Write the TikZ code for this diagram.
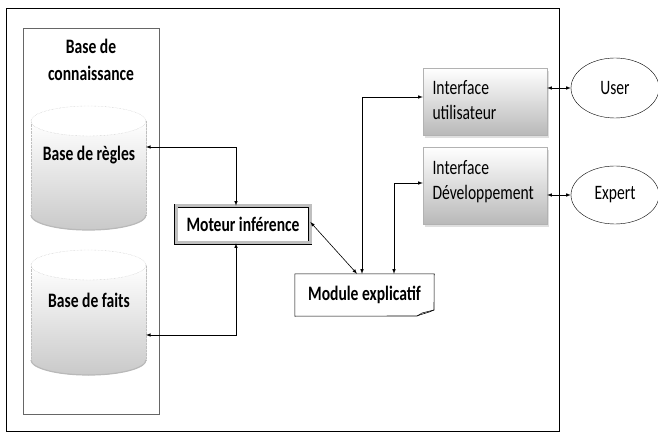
\documentclass[tikz,border=0pt]{standalone}
\usepackage{fontspec}
\setmainfont[FakeStretch=0.76]{Carlito}
\usetikzlibrary{positioning,arrows,shadows,shapes.geometric}

\begin{document}
\begin{tikzpicture}[x=1pt,y=1pt,
  txt/.style={font=\fontsize{20.5}{25}\selectfont},
  gras/.style={txt,font=\fontsize{20.5}{27}\selectfont\bfseries,align=center},
  iface/.style={draw=gray!60,top color=white,bottom color=gray!55,minimum width=124pt,
    drop shadow={shadow xshift=2pt,shadow yshift=-3pt,fill=gray!50}},
  acteur/.style={draw,ellipse,minimum width=88pt,minimum height=60pt,txt},
  con/.style={latex-latex,line width=0.6pt}]
\useasboundingbox (0,0) rectangle (658,434);

% cadres
\draw[line width=0.7pt] (6,3) rectangle (559,426);
\draw[gray!80!black,line width=0.7pt] (23,20) rectangle (159,406);
\node[gras] (kb) at (91,374) {Base de\\connaissance};

% les deux bases
\foreach \yt/\yb in {313/219,169/74}{
	\fill[top color=white,bottom color=gray!42] (31,\yt) -- (31,\yb) arc[start angle=180,end angle=360,x radius=57.5,y radius=15] -- (146,\yt) -- cycle;
	\draw[gray!55,line width=1.2pt] (31,\yb) arc[start angle=180,end angle=360,x radius=57.5,y radius=15];
	\draw[gray!50,densely dotted] (31,\yb) -- (31,\yt) (146,\yb) -- (146,\yt);
	\draw[gray!50,densely dotted,fill=white] (88.5,\yt) ellipse (57.5 and 15);
}
\node[gras] (br) at (89,279) {Base de règles};
\node[gras] (bf) at (89,134) {Base de faits};
\coordinate (brE) at (146,287);
\coordinate (bfE) at (146,99);

\node[gras,draw,fill=white,double=gray!50,double distance=3pt,line width=0.6pt,
  minimum width=134pt,minimum height=37pt] (mi) at (243,209.5) {Moteur inférence};

\node[gras,minimum width=139pt,minimum height=42pt] (me) at (364.5,139) {Module explicatif};
\draw[line width=0.6pt] (me.south west) -- (me.north west) -- (me.north east) -- (434,124)
	.. controls (428,121) and (421,120) .. (417,118) -- cycle;
\draw[line width=0.5pt] (434,124) -- (422,121) -- (417,118);

\node[iface,minimum height=67pt] (iu) at (485,332.5) {};
\node[iface,minimum height=77pt] (id) at (485,248.5) {};
\node[txt,align=left,anchor=west] (iuT) at (429,334) {Interface\\utilisateur};
\node[txt,align=left,anchor=west] (idT) at (429,252) {Interface\\Développement};

\node[acteur] (user) at (615,346) {User};
\node[acteur,minimum height=58pt] (expert) at (615,239) {Expert};

% connexions
\draw[con] (brE) -| ([xshift=-7pt]mi.north);
\draw[con] (bfE) -| ([xshift=-7pt]mi.south);
\draw[con] ([yshift=2.5pt]mi.east) -- ([xshift=-7.5pt]me.north);
\draw[con] ([xshift=-2.5pt]me.north) |- ([yshift=4.5pt]iu.west);
\draw[con] ([xshift=29.5pt]me.north) |- ([yshift=2.5pt]id.west);
\foreach \a/\b in {iu/user,id/expert}
	\draw[con] (\a.east |- \b.west) -- (\b.west);

\end{tikzpicture}
\end{document}
